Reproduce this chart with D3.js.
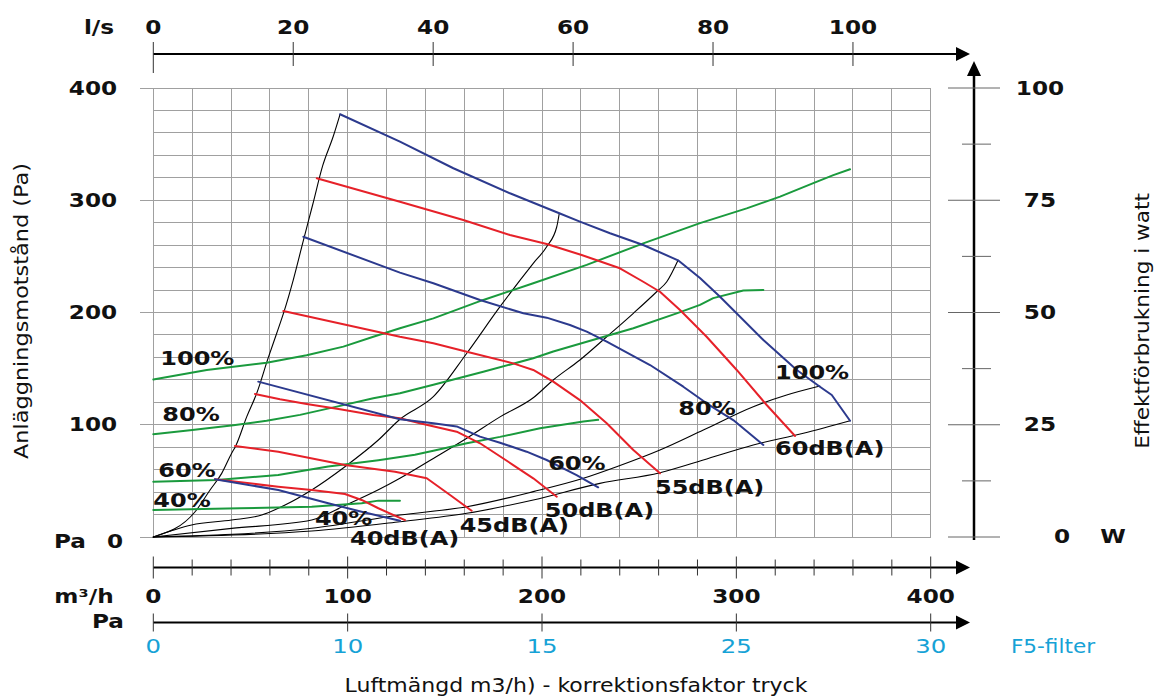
<!DOCTYPE html>
<html>
<head>
<meta charset="utf-8">
<script src="https://cdn.jsdelivr.net/npm/d3@7"></script>
<style>
  html, body { margin: 0; background: #fff; }
  svg { display: block; }
</style>
</head>
<body>
<svg id="chart" width="1155" height="698"></svg>
<script>
// ---- Fan diagram data: airflow in m³/h, pressure in Pa, power in W ----

// Maximum-speed envelope (black) from the origin up to the 100 % point
const envelope = [[0,0],[21.5,22.5],[29.2,41.9],[35.2,56.7],[40.3,74.6],[42.4,81.1],[48.1,107.2],[53.2,128],[59.2,160],[63.5,181.5],[67.3,201],[72,228.9],[77.2,264],[82,296],[87.2,331],[92.6,357],[96.1,376.6]];

// System (duct) characteristic curves, black
const systemA = [[0,0],[19.7,10.7],[40.3,15.1],[55.8,19.6],[67.8,28.5],[81.5,41.9],[98.6,62.6],[115.8,86.4],[126.9,104.9],[144.1,125],[161.3,163.7],[178.4,205.2],[195.5,243.8],[202.4,258.6],[207.6,276.4],[208.9,288.4]];
const systemB = [[0,0],[40.3,7.7],[81.5,15.1],[98.6,28],[115.8,42],[126.9,52.3],[144.1,70],[161.3,88],[178.4,107],[195.5,124],[205.8,139.9],[219.5,157.7],[233.3,178.4],[247,199.3],[259,218.5],[264.2,227.4],[270,246.5]];
const systemC = [[0,0],[81.5,7.8],[126.9,19.6],[161.3,27],[195.5,40.4],[221.3,52.3],[238.4,62.6],[260.7,77.5],[283,95.3],[308.7,116.1],[325.9,126.5],[343,134.5]];
const systemD = [[0,0],[81.5,5.3],[126.9,13.6],[161.3,21.1],[195.5,33],[229.8,47.8],[260.7,57.3],[283,68.6],[308.7,82],[334.5,92.4],[358.5,103.6]];

// Fan curves at fan speed settings (blue), Pa
const fan100 = [[96.1,376.6],[126.9,352.2],[154.4,328.5],[183.5,306.2],[208.9,288.4],[219.5,280.9],[235,270.6],[252.1,260.1],[270,246.5],[281.3,230.7],[291.6,214.1],[313.9,175.5],[331.1,148.8],[343,133.9],[349.1,126.5],[358.5,103.6]];
const fan80  = [[77.2,267.5],[126.9,235.5],[144.1,226],[168.1,211.1],[190.4,199.3],[202.4,195.4],[214.4,188.9],[223,182.9],[233.3,174],[255.6,153.2],[272.7,133.9],[284.7,119.1],[298.4,104.2],[313.9,82]];
const fan60  = [[54,138.4],[126.9,104.9],[144.1,101.3],[156.1,98.5],[168.1,89.4],[178.4,84],[192.1,76],[202.4,68.6],[217.8,55.2],[228.9,44.3]];
const fan40  = [[31.7,51.4],[64.3,41.9],[90,30],[107.2,22.5],[126.9,14.5]];

// Sound level curves (red), Pa
const sound60 = [[84.1,319.6],[126.9,298.7],[159.5,282.4],[183.5,269],[202.4,261],[220.4,251.2],[240.1,239.4],[252.1,227.4],[260.7,218.5],[271,202.2],[284.7,178.4],[300.2,148.8],[315.6,117.6],[330.2,90]];
const sound55 = [[66.9,201.3],[126.9,178.4],[144.1,172.6],[161.3,165.1],[185.2,154.7],[195.5,148.8],[205.8,138.4],[219.5,122],[233.3,101.3],[247,77.5],[260.7,56.7]];
const sound50 = [[52.3,127.4],[65.2,122.7],[78.9,118.5],[96.1,113.8],[113.2,108.7],[126.9,105.8],[137.2,101.3],[156.1,93.8],[168.1,83.5],[185.2,64.1],[195.5,52.3],[207.6,35.9]];
const sound45 = [[42,81.1],[64.3,76],[98.6,64.1],[124.4,58.2],[140.7,52.3],[152.7,37.4],[163.8,23.4]];
const sound40 = [[31.7,51.4],[64.3,44.8],[81.5,41.9],[98.6,38.3],[107.2,33],[115.8,25.6],[129.5,15.1]];

// Power consumption (green), W
const power100 = [[0,35.1],[27.5,37.2],[58.3,38.8],[78.9,40.5],[97.8,42.4],[113.2,44.6],[126.9,46.5],[144.1,48.7],[169.8,52.8],[195.5,56.5],[223,60.6],[252.1,65.4],[281.3,69.9],[305.3,73.2],[322.5,75.8],[339.6,78.8],[349.9,80.6],[358.5,81.9]];
const power80  = [[0,22.9],[18.9,23.8],[41.2,24.9],[58.3,25.9],[75.5,27.2],[96.1,29.2],[113.2,30.9],[126.9,32],[144.1,33.9],[169.8,36.8],[195.5,39.8],[205.8,41.3],[223,43.5],[247,46.5],[269.3,49.8],[281.3,51.7],[288.1,53.2],[303.6,54.9],[313.9,55]];
const power60  = [[0,12.3],[32.6,12.7],[64.3,13.8],[90,15.7],[115.8,17.1],[134.6,18.3],[144.1,19.2],[161.3,20.9],[178.4,22.3],[199,24.2],[221.3,25.7],[228.9,26.1]];
const power40  = [[0,6],[44.6,6.4],[81.5,6.75],[107.2,7.5],[115.8,8.1],[126.9,8.1]];

// Axis ticks and labels
const flowTicks = [0, 100, 200, 300, 400];           // m³/h
const litreTicks = [0, 20, 40, 60, 80, 100];         // l/s
const pressureTicks = [100, 200, 300, 400];          // Pa
const wattTicks = [25, 50, 75, 100];                 // W
const filterLabels = ["0", "10", "15", "25", "30"];  // F5-filter correction
const fanLabels = ["40%", "60%", "80%", "100%"];
const soundLabels = ["40dB(A)", "45dB(A)", "50dB(A)", "55dB(A)", "60dB(A)"];

// ---- Layout ----
const svg = d3.select("#chart");
const FONT = "'DejaVu Sans', Verdana, sans-serif";
const BLUE = "#2c3a8e", RED = "#e62129", GREEN = "#1a9a3d", GRID = "#a0a0a0", CYAN = "#16a2d6";

const x = d3.scaleLinear().domain([0, 400]).range([153.3, 930.7]);
const y = d3.scaleLinear().domain([0, 400]).range([537, 88]);
const yW = d3.scaleLinear().domain([0, 100]).range([537, 88]);
const xLs = d3.scaleLinear().domain([0, 400 / 3.6]).range(x.range());
const xFilter = d3.scalePoint().domain(filterLabels).range(x.range());

function label(parent, str, px, py, o = {}) {
  const g = parent.append("g")
    .attr("transform", `translate(${px},${py}) rotate(${o.rotate || 0}) scale(${o.sx || 1},1)`);
  g.append("text")
    .attr("text-anchor", o.anchor || "start")
    .attr("dominant-baseline", "central")
    .attr("font-family", FONT)
    .attr("font-size", o.size || 20)
    .attr("font-weight", o.weight || "normal")
    .attr("fill", o.fill || "#111")
    .text(str);
  return g;
}
const NUM = { size: 19, weight: "bold", anchor: "middle", sx: 1.22 };
const TITLE = { size: 20, anchor: "middle", sx: 1.1 };

// ---- Grid ----
const grid = svg.append("g").attr("stroke", GRID).attr("stroke-width", 1).attr("shape-rendering", "crispEdges");
d3.range(0, 401, 20).forEach(q => {
  grid.append("line").attr("x1", x(q)).attr("x2", x(q)).attr("y1", y(0)).attr("y2", y(400));
});
d3.range(0, 401, 20).forEach(p => {
  grid.append("line").attr("x1", x(0)).attr("x2", x(400)).attr("y1", y(p)).attr("y2", y(p));
});
// left pressure ticks
[0, ...pressureTicks].forEach(p => {
  grid.append("line").attr("x1", x(0) - 13).attr("x2", x(0)).attr("y1", y(p)).attr("y2", y(p));
});

// ---- Curves ----
const lineP = d3.line().x(d => x(d[0])).y(d => y(d[1]));
const lineW = d3.line().x(d => x(d[0])).y(d => yW(d[1]));
const curves = svg.append("g").attr("fill", "none").attr("stroke-linejoin", "round").attr("stroke-linecap", "round");

[envelope, systemA, systemB, systemC, systemD].forEach(c =>
  curves.append("path").attr("d", lineP.curve(d3.curveMonotoneX)(c)).attr("stroke", "#000").attr("stroke-width", 1.1));
lineP.curve(d3.curveLinear);

[power100, power80, power60, power40].forEach(c =>
  curves.append("path").attr("d", lineW(c)).attr("stroke", GREEN).attr("stroke-width", 2));
[sound60, sound55, sound50, sound45, sound40].forEach(c =>
  curves.append("path").attr("d", lineP(c)).attr("stroke", RED).attr("stroke-width", 2));
[fan100, fan80, fan60, fan40].forEach(c =>
  curves.append("path").attr("d", lineP(c)).attr("stroke", BLUE).attr("stroke-width", 2));

// ---- Curve labels ----
const first = c => c[0], last = c => c[c.length - 1];
const at = (c, pick, sc) => [x(pick(c)[0]), sc(pick(c)[1])];
const LBL = { size: 20, sx: 1.2, weight: "bold" };
const lbl = svg.append("g");
function place(text, [px, py], dx, dy) { label(lbl, text, px + dx, py + dy, LBL); }

place(fanLabels[3], at(power100, first, yW), 7, -22);
place(fanLabels[2], at(power80, first, yW), 9, -20);
place(fanLabels[1], at(power60, first, yW), 5, -12);
place(fanLabels[0], at(power40, first, yW), 0, -10);

place(fanLabels[0], at(fan40, last, y), -85, -3);
place(fanLabels[1], at(fan60, last, y), -50, -25);
place(fanLabels[2], at(fan80, last, y), -85, -37);
place(fanLabels[3], at(fan100, last, y), -75, -49);

place(soundLabels[0], at(sound40, last, y), -55, 18);
place(soundLabels[1], at(sound45, last, y), -12, 14);
place(soundLabels[2], at(sound50, last, y), -12, 13);
place(soundLabels[3], at(sound55, last, y), -5, 13);
place(soundLabels[4], at(sound60, last, y), -20, 12);

// ---- Axes ----
const axes = svg.append("g");
const arrowRight = (tx, ty) =>
  axes.append("path").attr("d", `M${tx},${ty} L${tx - 14},${ty - 7} L${tx - 14},${ty + 7} Z`).attr("fill", "#000");

// top axis, l/s
const yTop = 54;
axes.append("line").attr("x1", x(0)).attr("x2", 960).attr("y1", yTop).attr("y2", yTop).attr("stroke", "#000").attr("stroke-width", 1.8);
arrowRight(970, yTop);
litreTicks.forEach(v => {
  axes.append("line").attr("x1", xLs(v)).attr("x2", xLs(v))
    .attr("y1", yTop - 12).attr("y2", v === 0 ? yTop + 19 : yTop + 12).attr("stroke", "#333").attr("stroke-width", 1);
  label(axes, String(v), xLs(v), 27, NUM);
});
label(axes, "l/s", 99, 27, NUM);

// bottom axis, m³/h
const yFlow = 567.5;
axes.append("line").attr("x1", x(0)).attr("x2", 960).attr("y1", yFlow).attr("y2", yFlow).attr("stroke", "#000").attr("stroke-width", 1.8);
arrowRight(970, yFlow);
d3.range(0, 401, 20).forEach(v => {
  const major = v % 100 === 0;
  axes.append("line").attr("x1", x(v)).attr("x2", x(v))
    .attr("y1", yFlow - (major ? 11 : 8)).attr("y2", yFlow + (major ? 11 : 8)).attr("stroke", "#333").attr("stroke-width", 1);
});
flowTicks.forEach(v => label(axes, String(v), x(v), 596, NUM));
label(axes, "m³/h", 84, 596, NUM);

// bottom axis, F5-filter pressure correction
const yFilter = 622.5;
axes.append("line").attr("x1", x(0)).attr("x2", 960).attr("y1", yFilter).attr("y2", yFilter).attr("stroke", "#000").attr("stroke-width", 1.8);
arrowRight(970, yFilter);
filterLabels.forEach(v => {
  axes.append("line").attr("x1", xFilter(v)).attr("x2", xFilter(v))
    .attr("y1", yFilter - 9).attr("y2", yFilter + 9).attr("stroke", "#333").attr("stroke-width", 1);
  label(axes, v, xFilter(v), 646, { ...NUM, weight: "normal", size: 20, fill: CYAN });
});
label(axes, "Pa", 108, 621, NUM);
label(axes, "F5-filter", 1053, 646, { ...NUM, weight: "normal", size: 20, sx: 1.08, fill: CYAN });

// left pressure axis labels
pressureTicks.forEach(v => label(axes, String(v), 93, y(v), NUM));
label(axes, "Pa", 70, 541, NUM);
label(axes, "0", 115, 541, NUM);

// right power axis
const xPow = 974;
axes.append("line").attr("x1", xPow).attr("x2", xPow).attr("y1", 72).attr("y2", 540).attr("stroke", "#000").attr("stroke-width", 2.5);
axes.append("path").attr("d", `M${xPow},${61} L${xPow - 7},${76} L${xPow + 7},${76} Z`).attr("fill", "#000");
d3.range(0, 100.1, 12.5).forEach(v => {
  const major = v % 25 === 0;
  axes.append("line").attr("x1", major ? xPow - 26 : xPow - 12).attr("x2", major ? xPow + 26 : xPow + 17)
    .attr("y1", yW(v)).attr("y2", yW(v)).attr("stroke", "#666").attr("stroke-width", 1);
});
wattTicks.forEach(v => label(axes, String(v), 1040, yW(v), NUM));
label(axes, "0", 1062, 536, NUM);
label(axes, "W", 1113, 536, NUM);

// ---- Titles ----
label(svg, "Luftmängd m3/h) - korrektionsfaktor tryck", 576, 685, TITLE);
label(svg, "Anläggningsmotstånd (Pa)", 21, 311, { ...TITLE, rotate: -90, sx: 1.12 });
label(svg, "Effektförbrukning i watt", 1142, 321, { ...TITLE, rotate: -90, sx: 1.08 });
</script>
</body>
</html>
